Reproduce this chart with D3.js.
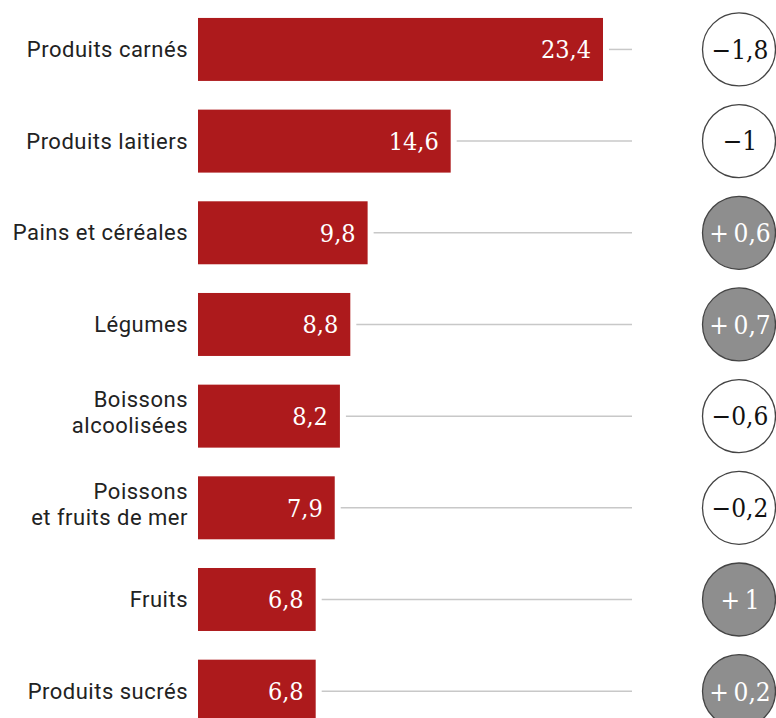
<!DOCTYPE html>
<meta charset="utf-8">
<head>
    <title>Consommation alimentaire</title>
    <script src="https://cdn.jsdelivr.net/npm/d3@7"></script>
    <style>
        body { margin: 0; background: #fff; }
        svg { display: block; }
    </style>
</head>
<body>
    <svg></svg>
    <script>
        // data
        var categories = ["Produits carnés", "Produits laitiers", "Pains et céréales", "Légumes",
            "Boissons alcoolisées", "Poissons et fruits de mer", "Fruits", "Produits sucrés"];
        var labelLines = [["Produits carnés"], ["Produits laitiers"], ["Pains et céréales"], ["Légumes"],
            ["Boissons", "alcoolisées"], ["Poissons", "et fruits de mer"], ["Fruits"], ["Produits sucrés"]];
        var shares = [23.4, 14.6, 9.8, 8.8, 8.2, 7.9, 6.8, 6.8];
        var changes = [-1.8, -1, 0.6, 0.7, -0.6, -0.2, 1, 0.2];

        w = 776;
        h = 718;

        var svg = d3.select("svg")
            .attr("width", w)
            .attr("height", h);

        var x = d3.scaleLinear()
            .domain([0, 23.4])
            .range([198, 603]);

        var y = d3.scaleBand()
            .domain(categories)
            .range([3.6, 737])
            .paddingInner(0.313)
            .paddingOuter(0.1565);

        var serif = "'DejaVu Serif Condensed', 'DejaVu Serif', serif";
        var fmt = function (v) { return String(v).replace(".", ","); };
        var fmtChange = function (v) {
            return (v < 0 ? "\u2212" : "+\u2009") + fmt(Math.abs(v));
        };
        var mid = function (d) { return y(d) + y.bandwidth() / 2; };

        var rows = svg.selectAll("g.row")
            .data(categories)
            .enter().append("g")
            .attr("class", "row");

        // grey guide lines
        rows.append("line")
            .attr("x1", function (d, i) { return x(shares[i]) + 6; })
            .attr("x2", 632)
            .attr("y1", mid)
            .attr("y2", mid)
            .style("stroke", "#c8c8c8")
            .style("stroke-width", 1.5);

        rows.append("rect")
            .attr("x", x(0))
            .attr("y", function (d) { return y(d); })
            .attr("width", function (d, i) { return x(shares[i]) - x(0); })
            .attr("height", y.bandwidth())
            .attr("fill", "#ad1a1c");

        rows.append("text")
            .attr("x", function (d, i) { return x(shares[i]) - 12; })
            .attr("y", mid)
            .attr("dy", "0.36em")
            .attr("text-anchor", "end")
            .attr("fill", "#fff")
            .style("font-family", serif)
            .style("font-size", "25px")
            .text(function (d, i) { return fmt(shares[i]); });

        // category labels
        rows.each(function (d, i) {
            var lines = labelLines[i];
            var cy = mid(d);
            var t = d3.select(this).append("text")
                .attr("text-anchor", "end")
                .attr("fill", "#222")
                .style("font-family", "Roboto, sans-serif")
                .style("font-size", "22px")
                .style("letter-spacing", "0.5px");
            lines.forEach(function (l, j) {
                var off = lines.length > 1 ? (j - 0.5) * 26 - 3.5 : 0;
                t.append("tspan")
                    .attr("x", 188)
                    .attr("y", cy + off)
                    .attr("dy", "0.35em")
                    .text(l);
            });
        });

        // change circles
        rows.append("circle")
            .attr("cx", 739)
            .attr("cy", mid)
            .attr("r", 36.5)
            .attr("fill", function (d, i) { return changes[i] < 0 ? "#fff" : "#8e8e8e"; })
            .style("stroke", "#444")
            .style("stroke-width", 1.3);

        rows.append("text")
            .attr("x", 740)
            .attr("y", mid)
            .attr("dy", "0.36em")
            .attr("text-anchor", "middle")
            .attr("fill", function (d, i) { return changes[i] < 0 ? "#111" : "#fff"; })
            .style("font-family", serif)
            .style("font-size", "26px")
            .text(function (d, i) { return fmtChange(changes[i]); });
    </script>
</body>
</html>
